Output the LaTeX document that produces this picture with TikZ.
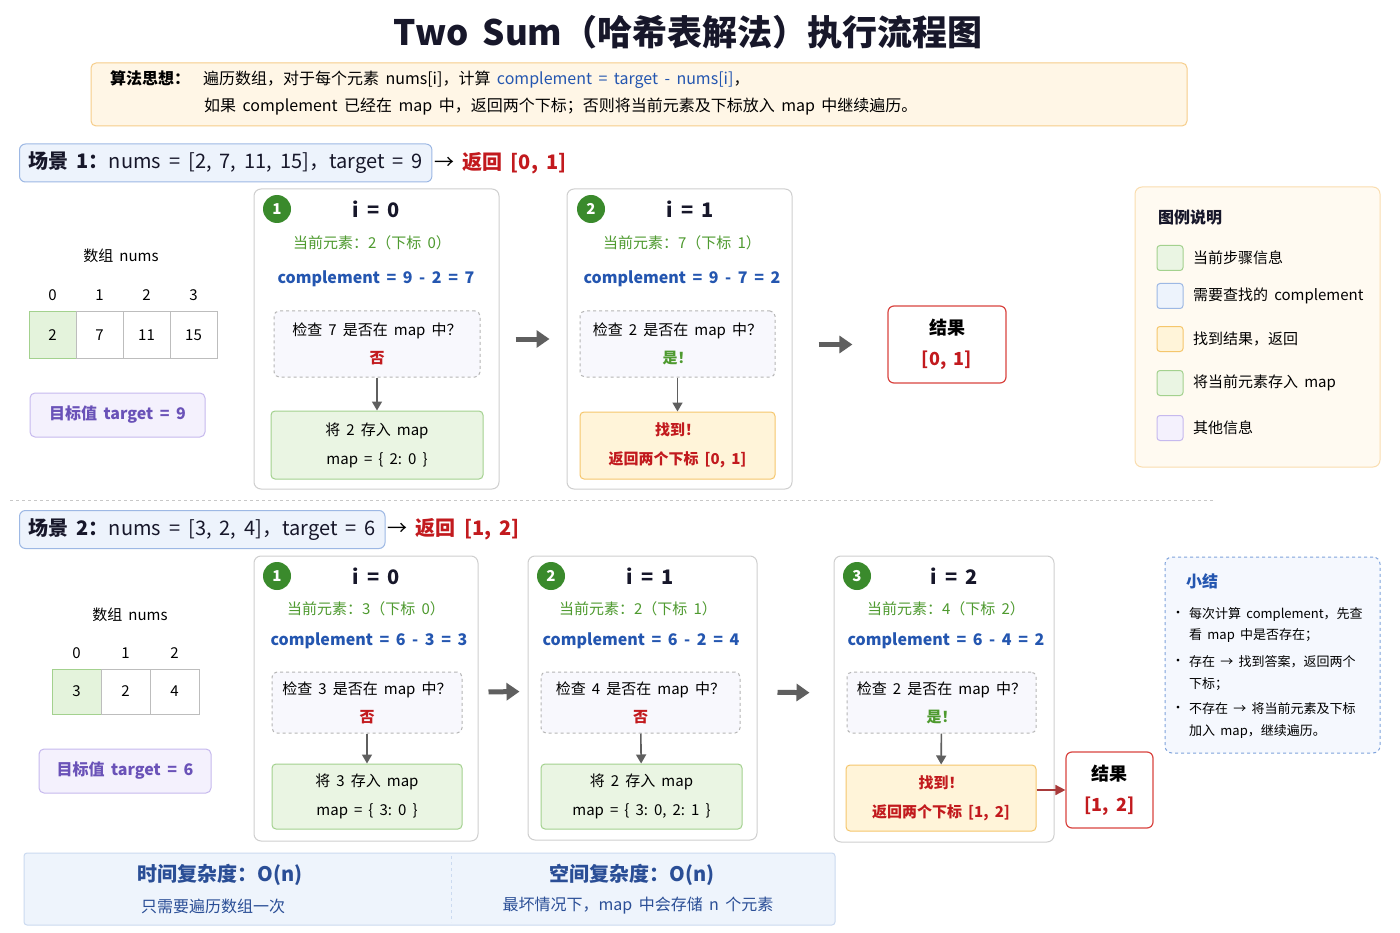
\documentclass[tikz,border=0pt]{standalone}
\usepackage{fontspec}
\setmainfont{Noto Sans CJK SC}[WordSpace=1.8]
\usetikzlibrary{positioning,arrows.meta,calc}

\definecolor{inkblack}{HTML}{17172A}
\definecolor{cmpblue}{HTML}{2456B0}
\definecolor{curgreen}{HTML}{4E9A2F}
\definecolor{badgegreen}{HTML}{3A8A2C}
\definecolor{hitred}{HTML}{C21A1E}
\definecolor{tgtpurple}{HTML}{6A52B8}
\definecolor{cardline}{HTML}{CFCFCF}
\definecolor{ideafill}{HTML}{FFF6E6}
\definecolor{idealine}{HTML}{F6CD8A}
\definecolor{hdrfill}{HTML}{EDF3FC}
\definecolor{hdrline}{HTML}{9DB8E4}
\definecolor{storefill}{HTML}{EAF5E3}
\definecolor{storeline}{HTML}{A3D18E}
\definecolor{foundfill}{HTML}{FFF4D9}
\definecolor{foundline}{HTML}{F5C66C}
\definecolor{checkfill}{HTML}{F8F8FD}
\definecolor{checkline}{HTML}{B5B5B5}
\definecolor{tgtfill}{HTML}{F4F1FD}
\definecolor{tgtline}{HTML}{C6B9EE}
\definecolor{resline}{HTML}{D94440}
\definecolor{resdark}{HTML}{A83A3A}
\definecolor{arrowgray}{HTML}{5F5F5F}
\definecolor{legfill}{HTML}{FFFAF1}
\definecolor{legline}{HTML}{FADDAF}
\definecolor{sumfill}{HTML}{F5F8FE}
\definecolor{sumline}{HTML}{7FA3DC}
\definecolor{cplxfill}{HTML}{EEF4FC}
\definecolor{cplxline}{HTML}{CBDAF0}
\definecolor{cplxtext}{HTML}{2A4E96}
\definecolor{cellline}{HTML}{BDBDBD}
\definecolor{cellgreen}{HTML}{E4F3DC}
\definecolor{sepgray}{HTML}{C8C8C8}

\newcommand\fsz[2]{\fontsize{#1}{#2}\selectfont}

\tikzset{
  card/.style={draw=cardline, line width=1pt, rounded corners=7pt, fill=white},
  checkbox/.style={draw=checkline, dashed, line width=1pt, rounded corners=5pt, fill=checkfill, align=center, font=\fsz{15}{28}},
  storebox/.style={draw=storeline, line width=1pt, rounded corners=4pt, fill=storefill, align=center, font=\fsz{15}{29}},
  foundbox/.style={draw=foundline, line width=1pt, rounded corners=4pt, fill=foundfill, align=center, font=\fsz{15}{29}\bfseries, text=hitred},
  resbox/.style={draw=resline, line width=1.2pt, rounded corners=6pt, fill=white, align=center, font=\fsz{18}{31}\bfseries},
  badge/.style={circle, fill=badgegreen, text=white, minimum size=28, font=\fsz{15}{18}\bfseries},
  iline/.style={font=\fsz{20}{24}\bfseries, text=inkblack},
  curline/.style={font=\fsz{15}{18}, text=curgreen},
  cmpline/.style={font=\fsz{16}{19}\bfseries, text=cmpblue},
  hdrbox/.style={draw=hdrline, line width=1pt, rounded corners=6pt, fill=hdrfill, inner xsep=9pt, minimum height=38, font=\fsz{20}{23}, text=inkblack},
  cell/.style={draw=cellline, line width=1pt, fill=white, minimum width=47, minimum height=46},
  cellhit/.style={fill=cellgreen, draw=storeline},
  tgtbox/.style={draw=tgtline, line width=1pt, rounded corners=5pt, fill=tgtfill, text=tgtpurple, font=\fsz{16}{19}\bfseries},
  swatch/.style={draw=#1line, fill=#1fill, line width=1pt, rounded corners=3pt, minimum width=26, minimum height=25},
  flowarrow/.style={-{Triangle[length=13pt,width=17pt]}, draw=arrowgray, line width=5pt},
  downarrow/.style={-{Triangle[length=9pt,width=10pt]}, draw=arrowgray, line width=1.6pt},
  hitarrow/.style={-{Triangle[length=10pt,width=10pt]}, draw=resdark, line width=1.6pt}
}

\begin{document}
\begin{tikzpicture}[x=1pt, y=-1pt, inner sep=0pt, font=\fsz{15}{18}]
\useasboundingbox (0,0) rectangle (1400,933);
\fill[white] (0,0) rectangle (1400,933);

% title and idea
\node[font=\fsz{35}{40}\bfseries, text=inkblack] (title) at (688,32) {Two Sum（哈希表解法）执行流程图};
\node[draw=idealine, fill=ideafill, line width=1pt, rounded corners=5pt, minimum width=1096, minimum height=63] (idea) at (639,94.5) {};
\node[anchor=west, font=\fsz{16}{19}] (idea1) at (110,80) {\textbf{算法思想：}\ \ 遍历数组，对于每个元素 nums[i]，计算 \textcolor{cmpblue}{complement = target - nums[i]}，};
\node[anchor=west, font=\fsz{16}{19}] (idea2) at (204,107) {如果 complement 已经在 map 中，返回两个下标；否则将当前元素及下标放入 map 中继续遍历。};

% scenario 1
\node[hdrbox, anchor=west] (hdr1) at (19,163) {\textbf{场景 1：}nums = [2, 7, 11, 15]，target = 9};
\node[right=2pt of hdr1, font=\fsz{20}{23}] (ret1) {→ \textcolor{hitred}{\textbf{返回 [0, 1]}}};

\node (arr1) at (121,256) {数组 nums};
\node[cell, cellhit] (a1c0) at (52.5,335) {2};
\foreach \v [count=\k] in {7,11,15}
  \node[cell] (a1c\k) at (52.5+47*\k,335) {\v};
\foreach \k in {0,...,3}
  \node (a1i\k) at (52.5+47*\k,295) {\k};
\node[tgtbox, minimum width=175, minimum height=44] (tgt1) at (117.5,415) {目标值 target = 9};

% step 1.1
\node[card, minimum width=245, minimum height=300] (s1c1) at (376.5,339) {};
\node[badge] (s1b1) at (277,209) {1};
\node[iline] (s1i1) at (376,209) {i = 0};
\node[curline] (s1e1) at (372,243) {当前元素：2（下标 0）};
\node[cmpline] (s1m1) at (376,279) {complement = 9 - 2 = 7};
\node[checkbox, minimum width=206, minimum height=66] (s1k1) at (377,344) {检查 7 是否在 map 中？\\\textcolor{hitred}{\textbf{否}}};
\node[storebox, minimum width=212, minimum height=68] (s1s1) at (377,445) {将 2 存入 map\\map = \{ 2:\ 0 \}};
\draw[downarrow] (s1k1) -- (s1s1);

% step 1.2
\node[card, minimum width=225, minimum height=300] (s1c2) at (679.5,339) {};
\node[badge] (s1b2) at (591,209) {2};
\node[iline] (s1i2) at (690,209) {i = 1};
\node[curline] (s1e2) at (682,243) {当前元素：7（下标 1）};
\node[cmpline] (s1m2) at (682,279) {complement = 9 - 7 = 2};
\node[checkbox, minimum width=195, minimum height=66] (s1k2) at (677.5,344) {检查 2 是否在 map 中？\\\textcolor{curgreen}{\textbf{是！}}};
\node[foundbox, minimum width=195, minimum height=67] (s1f2) at (677.5,445.5) {找到！\\返回两个下标 [0, 1]};
\draw[downarrow] (s1k2) -- (s1f2);

\node[resbox, minimum width=118, minimum height=77] (res1) at (947,344.5) {结果\\\textcolor{hitred}{[0, 1]}};
\draw[flowarrow, shorten <=16pt, shorten >=17pt] (s1c1.east) -- (s1c2.west);
\draw[flowarrow, shorten <=26pt, shorten >=35pt] (s1c2.east |- res1.west) -- (res1.west);

% legend
\node[draw=legline, fill=legfill, line width=1pt, rounded corners=7pt, minimum width=245, minimum height=280] (leg) at (1257.5,327) {};
\node[anchor=west, font=\fsz{16}{19}\bfseries, text=inkblack] (legt) at (1158,218) {图例说明};
\foreach \yy/\kind/\t [count=\k] in {258/store/当前步骤信息, 296/hdr/需要查找的 complement, 339/found/找到结果，返回, 383/store/将当前元素存入 map, 428/tgt/其他信息} {
  \node[swatch=\kind] (lg\k) at (1170,\yy) {};
  \node[anchor=west] (lgt\k) at (1193,\yy) {\t};
}

% separator
\draw[sepgray, dashed, line width=1pt] (10,500) -- (1215,500);

% scenario 2
\node[hdrbox, anchor=west] (hdr2) at (19,529.5) {\textbf{场景 2：}nums = [3, 2, 4]，target = 6};
\node[right=2pt of hdr2, font=\fsz{20}{23}] (ret2) {→ \textcolor{hitred}{\textbf{返回 [1, 2]}}};

\node (arr2) at (130,615) {数组 nums};
\node[cell, cellhit, minimum width=49, minimum height=45] (a2c0) at (76.5,691.5) {3};
\foreach \v [count=\k] in {2,4}
  \node[cell, minimum width=49, minimum height=45] (a2c\k) at (76.5+49*\k,691.5) {\v};
\foreach \k in {0,...,2}
  \node (a2i\k) at (76.5+49*\k,653) {\k};
\node[tgtbox, minimum width=172, minimum height=44] (tgt2) at (125,771) {目标值 target = 6};

% step 2.1
\node[card, minimum width=224, minimum height=285] (s2c1) at (366,698.5) {};
\node[badge] (s2b1) at (277,576) {1};
\node[iline] (s2i1) at (376,576) {i = 0};
\node[curline] (s2e1) at (366,609) {当前元素：3（下标 0）};
\node[cmpline] (s2m1) at (369,641) {complement = 6 - 3 = 3};
\node[checkbox, minimum width=190, minimum height=61] (s2k1) at (367,702.5) {检查 3 是否在 map 中？\\\textcolor{hitred}{\textbf{否}}};
\node[storebox, minimum width=190, minimum height=65] (s2s1) at (367,796.5) {将 3 存入 map\\map = \{ 3:\ 0 \}};
\draw[downarrow] (s2k1) -- (s2s1);

% step 2.2
\node[card, minimum width=229, minimum height=284] (s2c2) at (642.5,698) {};
\node[badge] (s2b2) at (551,576) {2};
\node[iline] (s2i2) at (650,576) {i = 1};
\node[curline] (s2e2) at (638,609) {当前元素：2（下标 1）};
\node[cmpline] (s2m2) at (641,641) {complement = 6 - 2 = 4};
\node[checkbox, minimum width=199, minimum height=61] (s2k2) at (640.5,702.5) {检查 4 是否在 map 中？\\\textcolor{hitred}{\textbf{否}}};
\node[storebox, minimum width=201, minimum height=65] (s2s2) at (641.5,796.5) {将 2 存入 map\\map = \{ 3:\ 0, 2:\ 1 \}};
\draw[downarrow] (s2k2) -- (s2s2);

% step 2.3
\node[card, minimum width=220, minimum height=286] (s2c3) at (944,699) {};
\node[badge] (s2b3) at (857,576) {3};
\node[iline] (s2i3) at (954,576) {i = 2};
\node[curline] (s2e3) at (946,609) {当前元素：4（下标 2）};
\node[cmpline] (s2m3) at (946,641) {complement = 6 - 4 = 2};
\node[checkbox, minimum width=189, minimum height=61] (s2k3) at (941.5,702.5) {检查 2 是否在 map 中？\\\textcolor{curgreen}{\textbf{是！}}};
\node[foundbox, minimum width=190, minimum height=66] (s2f3) at (941,798) {找到！\\返回两个下标 [1, 2]};
\draw[downarrow] (s2k3) -- (s2f3);

\node[resbox, minimum width=87, minimum height=76] (res2) at (1109.5,790) {结果\\\textcolor{hitred}{[1, 2]}};
\draw[flowarrow, shorten <=10pt, shorten >=8pt] ([yshift=6.5pt]s2c1.east) -- ([yshift=6.5pt]s2c2.west);
\draw[flowarrow, shorten <=20pt, shorten >=24pt] ([yshift=6pt]s2c2.east) -- ([yshift=6pt]s2c3.west);
\draw[hitarrow] (s2f3.east |- res2.west) -- (res2.west);

% summary
\node[draw=sumline, dashed, fill=sumfill, line width=1pt, rounded corners=7pt, minimum width=215, minimum height=196] (sum) at (1272.5,655) {};
\node[anchor=west, font=\fsz{16}{19}\bfseries, text=cmpblue] (sumt) at (1186,581) {小结};
\foreach \yy in {614,662,709}
  \node[font=\fsz{13}{16}] at (1178,\yy) {•};
\foreach \yy/\t [count=\k] in {614/每次计算 complement，先查, 636/看 map 中是否存在；, 662/存在 → 找到答案，返回两个, 684/下标；, 709/不存在 → 将当前元素及下标, 732/加入 map，继续遍历。}
  \node[anchor=west, font=\fsz{13}{16}] (sl\k) at (1189,\yy) {\t};

% complexity
\node[draw=cplxline, fill=cplxfill, line width=1pt, rounded corners=3pt, minimum width=811, minimum height=72] (cplx) at (429.5,889) {};
\draw[cplxline, dashed, line width=1pt] (451,856) -- (451,922);
\node[font=\fsz{20}{23}\bfseries, text=cplxtext] (tcx) at (220,875) {时间复杂度：O(n)};
\node[font=\fsz{16}{19}, text=cplxtext] (tcxd) at (213,906) {只需要遍历数组一次};
\node[font=\fsz{20}{23}\bfseries, text=cplxtext] (scx) at (632,875) {空间复杂度：O(n)};
\node[font=\fsz{16}{19}, text=cplxtext] (scxd) at (638,906) {最坏情况下，map 中会存储 n 个元素};
\end{tikzpicture}
\end{document}
